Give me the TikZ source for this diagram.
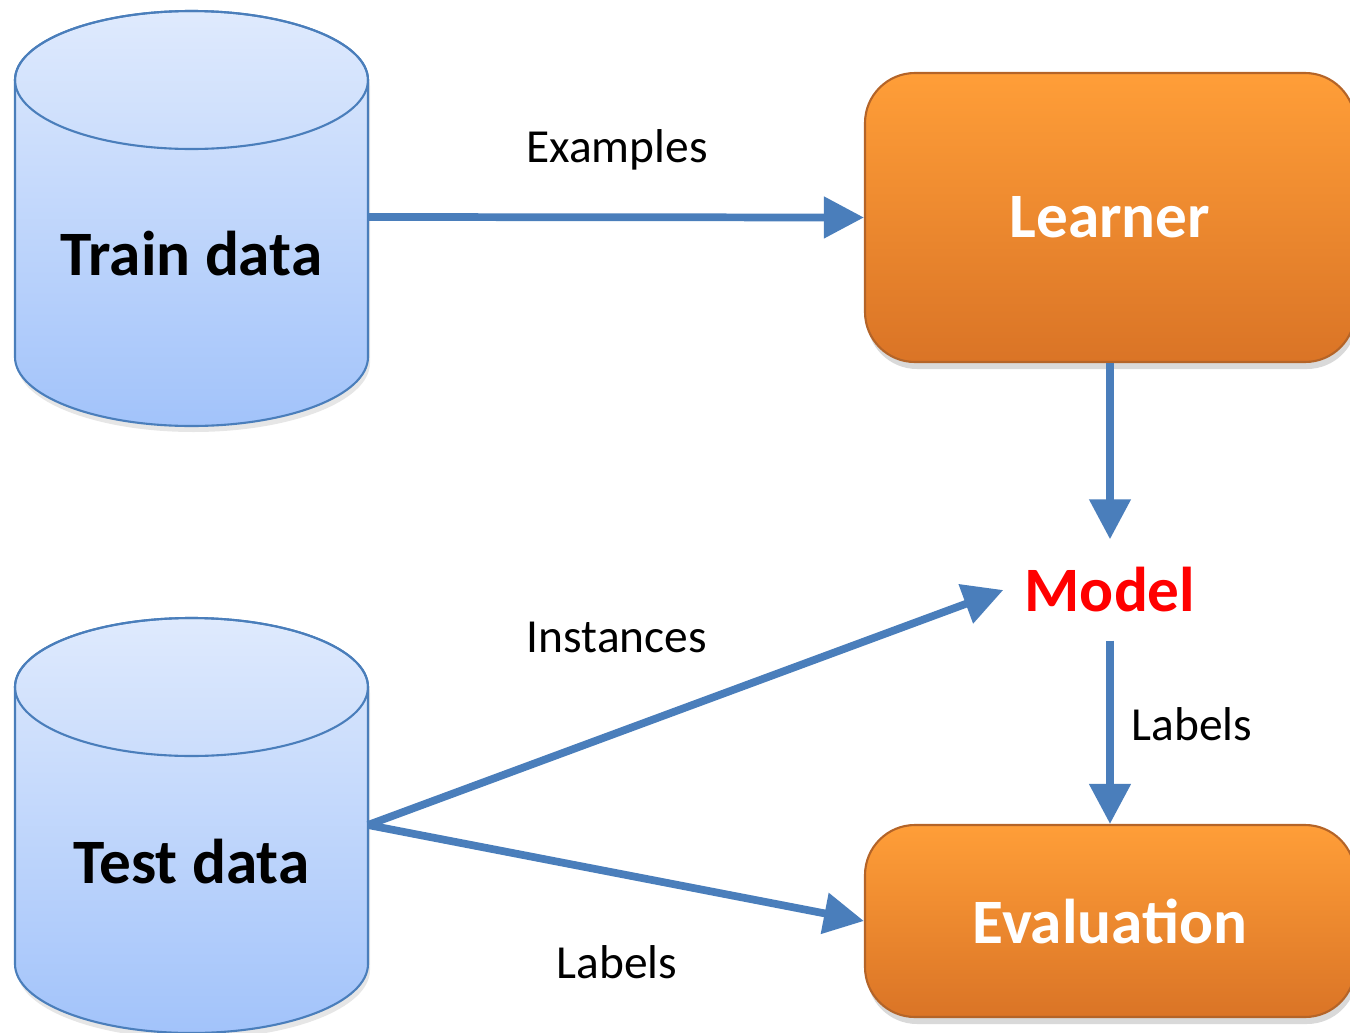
\documentclass[tikz,border=0pt]{standalone}
\usepackage{fontspec}
\setmainfont{Carlito}
\usetikzlibrary{arrows.meta}
\usetikzlibrary{shadows}
\usepackage{xcolor}

\definecolor{cylTop}{RGB}{223,234,253}
\definecolor{cylBot}{RGB}{162,195,250}
\definecolor{edgeBlue}{RGB}{74,126,187}
\definecolor{boxTop}{RGB}{255,158,56}
\definecolor{boxBot}{RGB}{218,116,38}
\definecolor{boxEdge}{RGB}{180,100,40}

\tikzset{
    flow/.style={draw=edgeBlue, line width=2.2pt, -{Triangle[length=0.4cm,width=0.4cm]}},
    stepbox/.style={rectangle, rounded corners=0.5cm, draw=boxEdge, line width=0.6pt,
        top color=boxTop, bottom color=boxBot, minimum width=4.9cm,
        text=white, font=\fontsize{18}{22}\selectfont\bfseries,
        drop shadow={opacity=0.3, shadow xshift=0.02cm, shadow yshift=-0.07cm}},
    cylbody/.style={draw=edgeBlue, line width=0.6pt, top color=cylTop, bottom color=cylBot,
        drop shadow={opacity=0.2, shadow xshift=0.02cm, shadow yshift=-0.06cm}},
    title/.style={font=\fontsize{18}{22}\selectfont\bfseries},
    lbl/.style={font=\fontsize{13.5}{16}\selectfont}
}

\begin{document}
\begin{tikzpicture}
        \useasboundingbox (0,0) rectangle (13.5,10.32);

        % train data cylinder
        \path[cylbody] (0.15,9.52) -- (0.15,6.75) arc[start angle=180, end angle=360, x radius=1.765, y radius=0.69]
            -- (3.68,9.52) arc[start angle=0, end angle=180, x radius=1.765, y radius=0.69] -- cycle;
        \draw[edgeBlue, line width=0.6pt] (1.915,9.52) ellipse [x radius=1.765, y radius=0.69];
        \node[title] (train) at (1.915,7.78) {Train data};
        \coordinate (trainout) at (3.68,8.15);

        % test data cylinder
        \path[cylbody] (0.15,3.45) -- (0.15,0.68) arc[start angle=180, end angle=360, x radius=1.765, y radius=0.69]
            -- (3.68,3.45) arc[start angle=0, end angle=180, x radius=1.765, y radius=0.69] -- cycle;
        \draw[edgeBlue, line width=0.6pt] (1.915,3.45) ellipse [x radius=1.765, y radius=0.69];
        \node[title] (test) at (1.915,1.70) {Test data};
        \coordinate (testout) at (3.68,2.07);

        % learner, model and evaluation
        \node[stepbox, minimum height=2.89cm] (learner) at (11.10,8.145) {Learner};
        \node[title, text=red, minimum width=2.12cm, minimum height=1cm, inner sep=0pt] (model) at (11.10,4.42) {Model};
        \node[stepbox, minimum height=1.92cm] (eval) at (11.10,1.11) {Evaluation};

        \draw[flow] (trainout) -- (learner.west);
        \draw[flow] (learner.south) -- (model.north);
        \draw[flow] (testout) -- (model.west);
        \draw[flow] (testout) -- (eval.west);
        \draw[flow] (model.south) -- (eval.north);

        \node[lbl] (exlbl) at (6.17,8.82) {Examples};
        \node[lbl] (inlbl) at (6.17,3.95) {Instances};
        \node[lbl] (tlbl) at (6.17,0.70) {Labels};
        \node[lbl] (mlbl) at (11.92,3.08) {Labels};
    \end{tikzpicture}
\end{document}
